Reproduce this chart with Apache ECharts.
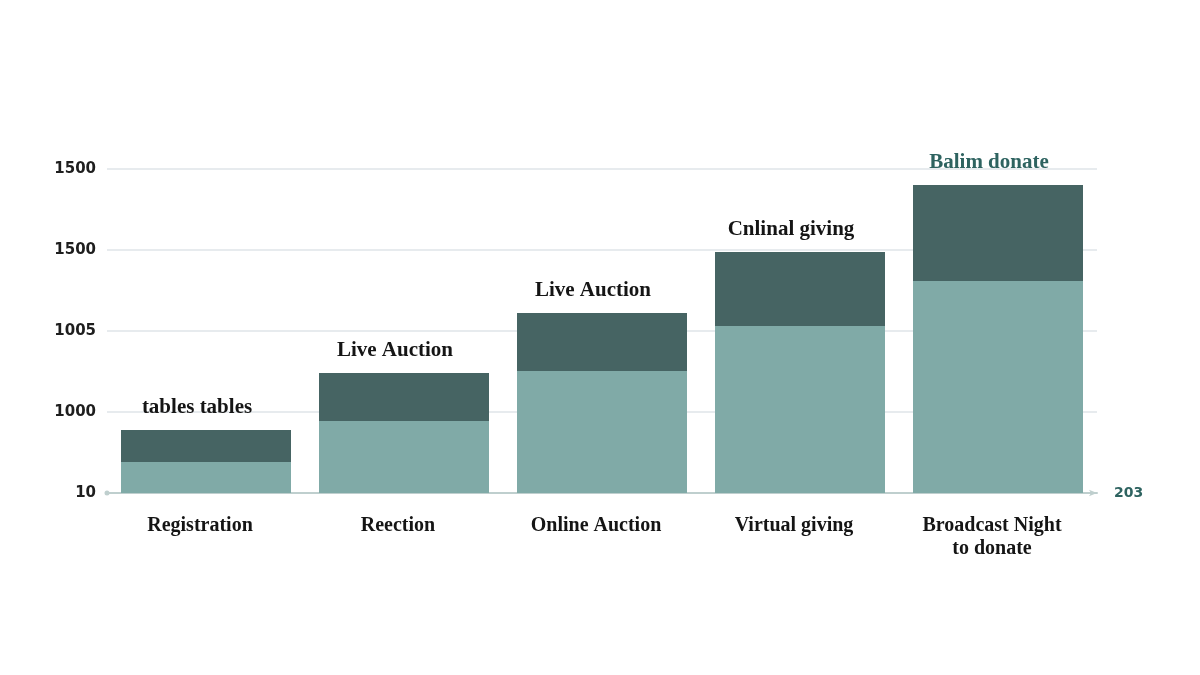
<!DOCTYPE html>
<html>
<head>
<meta charset="utf-8">
<script src="https://cdn.jsdelivr.net/npm/echarts@6/dist/echarts.min.js"></script>
<style>html,body{margin:0;padding:0;background:#fff}#c{width:1200px;height:675px}</style>
</head>
<body>
<div id="c"></div>
<script>
var categories = ['Registration', 'Reection', 'Online Auction', 'Virtual giving', 'Broadcast Night\nto donate'];
var baseValues = [191, 444, 753, 1031, 1309];
var topValues = [198, 297, 358, 457, 592];
var barLabels = ['tables tables', 'Live Auction', 'Live Auction', 'Cnlinal giving', 'Balim donate'];
var yTickLabels = ['10', '1000', '1005', '1500', '1500'];
var axisEndLabel = '203';

var chart = echarts.init(document.getElementById('c'), null, {renderer: 'canvas'});
var serif = '"Liberation Serif", "DejaVu Serif", serif';
var topData = topValues.map(function (v, i) {
  return {
    value: v,
    label: { color: i === barLabels.length - 1 ? '#2e6360' : '#151515' }
  };
});
chart.setOption({
  animation: false,
  backgroundColor: '#ffffff',
  grid: { left: 107, right: 103, top: 169, bottom: 182 },
  xAxis: {
    type: 'category',
    data: categories,
    name: axisEndLabel,
    nameLocation: 'end',
    nameGap: 17,
    nameTextStyle: { color: '#2e6360', fontFamily: '"DejaVu Sans", sans-serif', fontWeight: 'bold', fontSize: 14, verticalAlign: 'middle' },
    axisLine: { show: true, symbol: ['circle', 'arrow'], symbolSize: [5, 8], lineStyle: { color: '#bfcfce', width: 2 } },
    axisTick: { show: false },
    axisLabel: { color: '#151515', fontFamily: serif, fontSize: 20, fontWeight: 'bold', margin: 21, lineHeight: 23, padding: [0, 12, 0, 0] }
  },
  yAxis: {
    type: 'value',
    min: 0, max: 2000, interval: 500,
    axisLine: { show: false },
    axisTick: { show: false },
    splitLine: { lineStyle: { color: '#dfe5e8', width: 1.5 } },
    axisLabel: {
      margin: 11,
      color: '#1e1e1e', fontFamily: '"DejaVu Sans", sans-serif', fontWeight: 'bold', fontSize: 15,
      formatter: function (v) { return yTickLabels[Math.round(v / 500)]; }
    }
  },
  series: [
    {
      type: 'bar', stack: 'a', data: baseValues, barWidth: 170,
      itemStyle: { color: '#80aaa7' }
    },
    {
      type: 'bar', stack: 'a', data: topData, barWidth: 170,
      itemStyle: { color: '#466463' },
      label: {
        show: true, position: 'top', distance: 12, offset: [-9, 0],
        fontFamily: serif, fontSize: 21, fontWeight: 'bold',
        formatter: function (p) { return barLabels[p.dataIndex]; }
      }
    }
  ]
});
</script>
</body>
</html>
